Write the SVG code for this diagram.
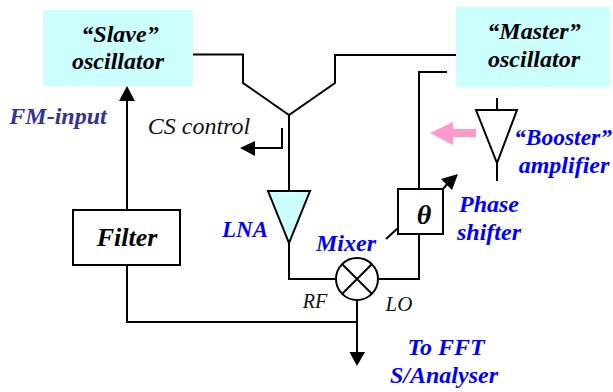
<svg xmlns="http://www.w3.org/2000/svg" width="613" height="392" viewBox="0 0 613 392">
<style>
.w{fill:none;stroke:#000;stroke-width:2;stroke-linejoin:miter}
.osc{fill:#ccffff}
.box{fill:#fff;stroke:#000;stroke-width:2}
.h{fill:#000}
text{font-family:"Liberation Serif","Times New Roman",serif;font-style:italic;text-anchor:middle}
.b{font-weight:bold;font-size:24px;fill:#000}
.bl{font-weight:bold;font-size:24px;fill:#0000ff}
.n{font-size:24px;fill:#111}
</style>
<rect width="613" height="392" fill="#fff"/>
<g id="connectors">
<path class="w" d="M193 54.500H243V83L289 115L335 83V55H456"/>
<path class="w" d="M289 115V191"/>
<path class="w" d="M289 243V279H336"/>
<path class="w" d="M379 279H419V234"/>
<path class="w" d="M419 189V72H447"/>
<path class="w" d="M127 210V100"/>
<path class="h" d="M127 86L135 101H119Z"/>
<path class="w" d="M282 128V148H254"/>
<path class="h" d="M240 148L255 141V156Z"/>
<path class="w" d="M127 265V322H357"/>
<path class="w" d="M357 296V352"/>
<path class="h" d="M357 366L349.500 352H365Z"/>
<path class="w" d="M497 98V110M497 163V181"/>
<path class="w" d="M386 239L398 228"/>
<path class="w" d="M443 189L449 182"/>
<path class="h" d="M458 174L452 190L441 179Z"/>
<path d="M430 133L453 122V129H476V137H453V145Z" fill="#ff99cc"/>
</g>
<g id="slave-oscillator">
<rect class="osc" x="43" y="10" width="150" height="76"/>
<text class="b" x="120" y="42">“Slave”</text>
<text class="b" x="118" y="69">oscillator</text>
</g>
<g id="master-oscillator">
<rect class="osc" x="456" y="7" width="154" height="80"/>
<text class="b" x="534" y="39">“Master”</text>
<text class="b" x="534" y="67">oscillator</text>
</g>
<g id="filter">
<rect class="box" x="73" y="210" width="107" height="55"/>
<text x="127" y="246" font-weight="bold" font-size="26" fill="#000">Filter</text>
</g>
<g id="lna">
<path d="M268 191H310L289 243Z" fill="#ccffff" stroke="#000" stroke-width="2"/>
<text class="bl" x="245" y="237" style="font-size:23px">LNA</text>
</g>
<g id="booster">
<path d="M476 110H517L497 163Z" fill="#fff" stroke="#000" stroke-width="2"/>
<text class="bl" x="563" y="145" style="font-size:23.500px">“Booster”</text>
<text class="bl" x="564" y="173">amplifier</text>
</g>
<g id="phase-shifter">
<rect class="box" x="398" y="189" width="45" height="45"/>
<text x="424" y="224" font-size="28" font-weight="bold" fill="#000">θ</text>
<text class="bl" x="489" y="212">Phase</text>
<text class="bl" x="489" y="240">shifter</text>
</g>
<g id="mixer">
<circle cx="357" cy="279" r="21" fill="#fff" stroke="#000" stroke-width="2"/>
<path class="w" d="M342 264L372 294M372 264L342 294"/>
<text class="bl" x="346" y="251">Mixer</text>
<text x="315" y="308" font-size="20" fill="#111">RF</text>
<text x="399" y="311" font-size="21" fill="#111">LO</text>
</g>
<g id="labels">
<text x="58" y="124" font-weight="bold" font-size="24" fill="#333399">FM-input</text>
<text class="n" x="199" y="134">CS control</text>
<text class="bl" x="446" y="355">To FFT</text>
<text class="bl" x="444" y="383">S/Analyser</text>
</g>
</svg>
